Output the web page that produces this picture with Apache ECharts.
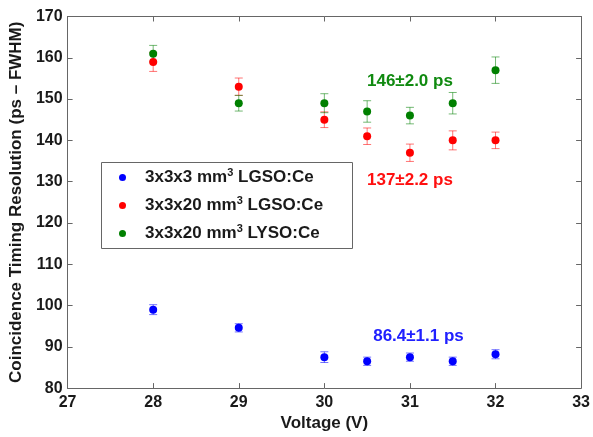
<!DOCTYPE html>
<html>
<head>
<meta charset="utf-8">
<script src="https://cdn.jsdelivr.net/npm/echarts@6/dist/echarts.min.js"></script>
<style>
  html, body { margin: 0; padding: 0; background: #fff; }
  #chart { width: 593px; height: 437px; }
</style>
</head>
<body>
<div id="chart"></div>
<script>
// values
var voltage = [28, 29, 30, 30.5, 31, 31.5, 32];

var lgso3Y = [99.0, 94.6, 87.5, 86.5, 87.5, 86.5, 88.2];
var lgso3Err = [1.2, 1.0, 1.3, 1.0, 1.0, 1.0, 1.1];

var lgso20Y = [159, 153, 145, 141, 137, 140, 140];
var lgso20Err = [2.3, 2.1, 1.9, 2.0, 2.1, 2.3, 2.0];

var lyso20Y = [161, 149, 149, 147, 146, 149, 157];
var lyso20Err = [2.0, 1.9, 2.3, 2.6, 2.0, 2.6, 3.2];

var seriesNames = ["3x3x3 mm3 LGSO:Ce", "3x3x20 mm3 LGSO:Ce", "3x3x20 mm3 LYSO:Ce"];
var seriesColors = ["#0000ff", "#ff0000", "#008000"];

var annoX = [31.0, 31.0, 31.1];
var annoY = [154.3, 130.4, 92.6];
var annoText = ["146\u00b12.0 ps", "137\u00b12.2 ps", "86.4\u00b11.1 ps"];
var annoColors = ["#108a10", "#ff1010", "#2020ff"];

var xTicks = [27, 28, 29, 30, 31, 32, 33];
var yTicks = [80, 90, 100, 110, 120, 130, 140, 150, 160, 170];

var font = "'Liberation Sans', Arial, Helvetica, sans-serif";

function pairs(ys, errs) {
  var out = [];
  for (var i = 0; i < voltage.length; i++) {
    out.push([voltage[i], ys[i], errs[i]]);
  }
  return out;
}

function errorBars(color) {
  return function (params, api) {
    var x = api.value(0), y = api.value(1), e = api.value(2);
    var top = api.coord([x, y + e]);
    var bot = api.coord([x, y - e]);
    var half = 4;
    var st = { stroke: color, lineWidth: 1, opacity: 0.55 };
    return {
      type: "group",
      children: [
        { type: "line", shape: { x1: top[0], y1: top[1], x2: bot[0], y2: bot[1] }, style: st },
        { type: "line", shape: { x1: top[0] - half, y1: top[1], x2: top[0] + half, y2: top[1] }, style: st },
        { type: "line", shape: { x1: bot[0] - half, y1: bot[1], x2: bot[0] + half, y2: bot[1] }, style: st }
      ]
    };
  };
}

var allY = [lgso3Y, lgso20Y, lyso20Y];
var allErr = [lgso3Err, lgso20Err, lyso20Err];

var series = [];
for (var s = 0; s < 3; s++) {
  series.push({
    name: seriesNames[s] + " err",
    type: "custom",
    renderItem: errorBars(seriesColors[s]),
    data: pairs(allY[s], allErr[s]),
    silent: true,
    z: 2
  });
}
for (var s2 = 0; s2 < 3; s2++) {
  series.push({
    name: seriesNames[s2],
    type: "scatter",
    symbol: "circle",
    symbolSize: 8,
    itemStyle: { color: seriesColors[s2], opacity: 1 },
    data: pairs(allY[s2], allErr[s2]).map(function (d) { return [d[0], d[1]]; }),
    z: 3
  });
}
var annoData = [];
for (var a = 0; a < annoX.length; a++) {
  annoData.push({
    value: [annoX[a], annoY[a]],
    label: { formatter: annoText[a], color: annoColors[a] }
  });
}
series.push({
  name: "notes",
  type: "scatter",
  symbolSize: 0,
  silent: true,
  itemStyle: { opacity: 1 },
  data: annoData,
  label: {
    show: true,
    position: "inside",
    fontFamily: font,
    fontWeight: "bold",
    fontSize: 17,
    opacity: 1
  },
  z: 4
});

var axisLineStyle = { color: "#666", width: 1 };
var labelStyle = { color: "#1a1a1a", fontFamily: font, fontWeight: "bold", fontSize: 16 };
var nameStyle = { color: "#1a1a1a", fontFamily: font, fontWeight: "bold", fontSize: 17 };

var chart = echarts.init(document.getElementById("chart"));
chart.setOption({
  animation: false,
  backgroundColor: "#fff",
  grid: { left: 62, right: 10, top: 16.5, bottom: 42.5 },
  graphic: [{
    type: "rect",
    shape: { x: 101.5, y: 162.5, width: 251, height: 86 },
    style: { fill: "#fff", stroke: "#666", lineWidth: 1 },
    z: 5
  }],
  legend: {
    data: seriesNames,
    orient: "vertical",
    left: 102,
    top: 163,
    padding: [4, 10, 4, 17],
    itemGap: 9,
    itemWidth: 7,
    itemHeight: 7,
    icon: "circle",
    z: 6,
    formatter: function (name) {
      var parts = name.split(" mm3 ");
      return "{g|}" + parts[0] + " mm{sup|3} " + parts[1];
    },
    textStyle: {
      color: "#1a1a1a",
      fontFamily: font,
      fontWeight: "bold",
      fontSize: 17,
      rich: {
        g: { width: 14 },
        sup: { fontSize: 11, fontWeight: "bold", fontFamily: font, padding: [0, 0, 10, 0] }
      }
    }
  },
  xAxis: [{
    type: "value",
    min: 27, max: 33, interval: 1,
    name: "Voltage (V)",
    nameLocation: "middle",
    nameGap: 23,
    nameTextStyle: nameStyle,
    axisLine: { lineStyle: axisLineStyle },
    axisTick: { inside: true, length: 5, lineStyle: axisLineStyle },
    axisLabel: Object.assign({ margin: 6, formatter: function (v) { return xTicks.indexOf(v) >= 0 ? String(v) : ""; } }, labelStyle),
    splitLine: { show: false }
  }, {
    type: "value",
    position: "top",
    min: 27, max: 33, interval: 1,
    axisLine: { lineStyle: axisLineStyle },
    axisTick: { inside: true, length: 5, lineStyle: axisLineStyle },
    axisLabel: { show: false },
    splitLine: { show: false }
  }],
  yAxis: [{
    type: "value",
    min: 80, max: 170, interval: 10,
    name: "Coincidence Timing Resolution (ps \u2013 FWHM)",
    nameLocation: "middle",
    nameGap: 38,
    nameTextStyle: nameStyle,
    axisLine: { show: true, lineStyle: axisLineStyle },
    axisTick: { show: true, inside: true, length: 5, lineStyle: axisLineStyle },
    axisLabel: Object.assign({ margin: 5, formatter: function (v) { return yTicks.indexOf(v) >= 0 ? String(v) : ""; } }, labelStyle),
    splitLine: { show: false }
  }, {
    type: "value",
    position: "right",
    min: 80, max: 170, interval: 10,
    axisLine: { show: true, lineStyle: axisLineStyle },
    axisTick: { show: true, inside: true, length: 5, lineStyle: axisLineStyle },
    axisLabel: { show: false },
    splitLine: { show: false }
  }],
  series: series
});
</script>
</body>
</html>
